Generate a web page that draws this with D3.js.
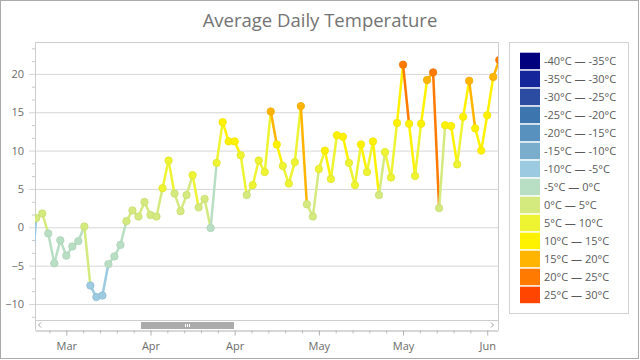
<!DOCTYPE html>
<html>
<head>
<meta charset="utf-8">
<script src="https://cdn.jsdelivr.net/npm/d3@7"></script>
<style>
  body { margin: 0; background: #fff; }
  svg { display: block; font-family: "Open Sans", sans-serif; }
</style>
</head>
<body>
<svg id="chart" width="640" height="360"></svg>
<script>
const W = 640, H = 360;
const plot = { left: 35, top: 42, right: 498, bottom: 320 },
  axisY = 330;

// one point a day, starting at firstDay
const firstDay = "2017-03-20";
const temps = [
  -8.1, 1.2, 1.8, -0.8, -4.7, -1.7, -3.7, -2.5, -1.8, 0.1, -7.6, -9.1,
  -8.9, -4.8, -3.8, -2.3, 0.8, 2.2, 1.4, 3.3, 1.6, 1.4, 5.1, 8.7, 4.4, 2.1, 4.2, 6.8, 2.6, 3.7, -0.1,
  8.4, 13.7, 11.2, 11.2, 9.4, 4.2, 5.5, 8.7, 7.2, 15.1, 10.8,
  8.0, 5.7, 8.5, 15.8, 3.0, 1.4, 7.6, 10.0, 6.3, 12.0, 11.8, 8.4, 5.5, 10.8, 7.2, 11.2, 4.2, 9.8, 6.5,
  13.6, 21.2, 13.5, 6.7, 13.5, 19.2, 20.2, 2.5, 13.3, 13.2, 8.2, 14.4,
  19.1, 12.9, 10.0, 14.6, 19.6, 21.8, 23.0
];

const rangeStarts = [-40, -35, -30, -25, -20, -15, -10, -5, 0, 5, 10, 15, 20, 25];
const rangeColors = ["#00007f", "#15259a", "#2b4ca1", "#3d75ae", "#5891bd", "#7aaccc", "#9ccae0",
  "#b8dfc4", "#d4ea7e", "#eef432", "#fff200", "#ffb400", "#ff7a00", "#ff4500"];

const viewStart = "2017-03-20T19:00", viewEnd = "2017-06-05T19:00";
const xTicks = ["2017-03-26", "2017-04-09", "2017-04-23", "2017-05-07", "2017-05-21", "2017-06-04"];
const yTicks = [-10, -5, 0, 5, 10, 15, 20];
const yDomain = [-12.09, 24.16];

const parseDay = d3.utcParse("%Y-%m-%d"), parseHour = d3.utcParse("%Y-%m-%dT%H:%M");
const day0 = parseDay(firstDay);
const data = temps.map((t, i) => ({ date: d3.utcDay.offset(day0, i), t: t }));

const svg = d3.select("#chart");

const x = d3.scaleUtc()
  .domain([parseHour(viewStart), parseHour(viewEnd)])
  .range([plot.left, plot.right]);
const y = d3.scaleLinear().domain(yDomain).range([plot.bottom, plot.top]);

const colorOf = d3.scaleThreshold().domain(rangeStarts.slice(1)).range(rangeColors);

// outer frame
svg.append("rect").attr("x", 0.5).attr("y", 0.5).attr("width", W - 2).attr("height", H - 2)
  .attr("fill", "#fff").attr("stroke", "#aaa");

svg.append("text").attr("x", 320).attr("y", 27).attr("text-anchor", "middle")
  .attr("font-size", 18.5).attr("fill", "#737373").text("Average Daily Temperature");

// gridlines + major y ticks
const grid = svg.append("g").attr("transform", `translate(${plot.right},0)`)
  .call(d3.axisLeft(y).tickValues(yTicks).tickSize(plot.right - plot.left + 6).tickFormat(""));
grid.select(".domain").remove();
grid.selectAll("line").attr("stroke", "#d6d6d6");

const minorY = d3.range(-7, 15).filter(k => k % 3 !== 0).map(k => k * 5 / 3);
const yMinor = svg.append("g").attr("transform", `translate(${plot.left},0)`)
  .call(d3.axisLeft(y).tickValues(minorY).tickSize(3).tickFormat(""));
yMinor.select(".domain").remove();
yMinor.selectAll("line").attr("stroke", "#c8c8c8");

const yLab = svg.append("g").attr("transform", `translate(${plot.left},0)`)
  .call(d3.axisLeft(y).tickValues(yTicks).tickSize(0).tickPadding(11));
yLab.select(".domain").remove();
yLab.selectAll("text").attr("font-size", 11).attr("fill", "#6b6b6b").attr("font-family", "Open Sans");

// plot frame (incl. scrollbar strip)
svg.append("path")
  .attr("d", `M${plot.left + 0.5},${axisY}V${plot.top + 0.5}H${plot.right + 0.5}V${axisY}M${plot.left},${plot.bottom + 0.5}H${plot.right}`)
  .attr("fill", "none").attr("stroke", "#cdcdcd");

// x axis
const xTickDates = xTicks.map(parseDay);
const step = 14 * 864e5 / 5;
const minorX = [];
for (let t = +xTickDates[0] - 5 * step; t <= +xTickDates[xTickDates.length - 1] + 5 * step; t += step) {
  const d = new Date(t);
  if (d >= x.domain()[0] && d <= x.domain()[1] && !xTickDates.some(m => Math.abs(m - d) < 1e3)) minorX.push(d);
}
const xMinor = svg.append("g").attr("transform", `translate(0,${axisY + 0.5})`)
  .call(d3.axisBottom(x).tickValues(minorX).tickSize(3).tickFormat(""));
xMinor.select(".domain").remove();
xMinor.selectAll("line").attr("stroke", "#bdbdbd");

const xAxis = svg.append("g").attr("transform", `translate(0,${axisY + 0.5})`)
  .call(d3.axisBottom(x).tickValues(xTickDates).tickSizeInner(5).tickSizeOuter(0).tickPadding(7)
    .tickFormat(d3.utcFormat("%b")));
xAxis.select(".domain").attr("stroke", "#b0b0b0");
xAxis.selectAll("line").attr("stroke", "#b0b0b0");
xAxis.selectAll("text").attr("font-size", 11).attr("fill", "#6b6b6b").attr("font-family", "Open Sans");

// scrollbar
const sb = svg.append("g");
sb.append("rect").attr("x", 141).attr("y", 322).attr("width", 93).attr("height", 7).attr("fill", "#ababab");
[-2, 0, 2].forEach(o => sb.append("line").attr("x1", 187.5 + o).attr("x2", 187.5 + o)
  .attr("y1", 324).attr("y2", 327).attr("stroke", "#fff"));
sb.append("path").attr("d", "M41,322.5L38.5,325L41,327.5M491,322.5L493.5,325L491,327.5")
  .attr("fill", "none").attr("stroke", "#a0a0a0");

// series
svg.append("clipPath").attr("id", "clip").append("rect")
  .attr("x", plot.left).attr("y", plot.top).attr("width", plot.right - plot.left).attr("height", plot.bottom - plot.top);
const series = svg.append("g").attr("clip-path", "url(#clip)");

series.selectAll("line.seg").data(d3.pairs(data)).join("line").attr("class", "seg")
  .attr("x1", d => x(d[0].date)).attr("y1", d => y(d[0].t))
  .attr("x2", d => x(d[1].date)).attr("y2", d => y(d[1].t))
  .attr("stroke", d => colorOf(d[0].t)).attr("stroke-width", 2.5).attr("stroke-linecap", "round");

series.selectAll("circle").data(data).join("circle")
  .attr("cx", d => x(d.date)).attr("cy", d => y(d.t)).attr("r", 3.7)
  .attr("fill", d => colorOf(d.t))
  .attr("stroke", d => d3.interpolateRgb(colorOf(d.t), "#000")(0.06)).attr("stroke-width", 0.8);

// legend
const legend = svg.append("g");
legend.append("rect").attr("x", 509.5).attr("y", 42.5).attr("width", 119).attr("height", 271)
  .attr("fill", "#fff").attr("stroke", "#d3d3d3");
const items = legend.selectAll("g.item").data(rangeStarts).join("g").attr("class", "item")
  .attr("transform", (d, i) => `translate(520,${52.7 + i * 18})`);
items.append("rect").attr("width", 20).attr("height", 16.5).attr("fill", (d, i) => rangeColors[i]);
items.append("text").attr("x", 24).attr("y", 8.3).attr("dominant-baseline", "central")
  .attr("font-size", 11).attr("fill", "#5a5a5a")
  .text(d => `${d}°C — ${d + 5}°C`);
</script>
</body>
</html>
